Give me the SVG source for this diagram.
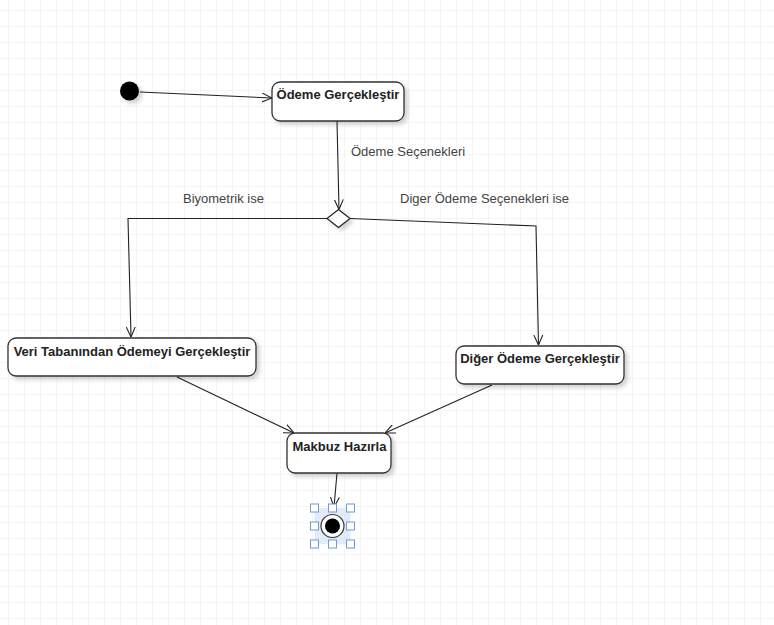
<svg xmlns="http://www.w3.org/2000/svg" width="774" height="625" viewBox="0 0 774 625">
  <defs>
    <pattern id="grid" x="8" y="10" width="16" height="16" patternUnits="userSpaceOnUse">
      <path d="M0,0 H16 M0,0 V16" fill="none" stroke="#ebebeb" stroke-width="1"/>
    </pattern>
    <filter id="shadow" x="-20%" y="-20%" width="150%" height="160%">
      <feDropShadow dx="3" dy="3" stdDeviation="2" flood-color="#000" flood-opacity="0.18"/>
    </filter>
    <marker id="arrow" viewBox="0 0 10 10" refX="10" refY="5" markerWidth="10" markerHeight="10" markerUnits="userSpaceOnUse" orient="auto">
      <path d="M0,0.5 L10,5 L0,9.5" fill="none" stroke="#222" stroke-width="1.1"/>
    </marker>
    <style>
      .node rect { fill: #ffffff; stroke: #333333; stroke-width: 1.3; filter: url(#shadow); }
      .node text { font-family: "Liberation Sans", Arial, sans-serif; font-size: 13px; font-weight: bold; fill: #222222; text-anchor: middle; }
      .edge { fill: none; stroke: #222222; stroke-width: 1.1; }
      .arrow { marker-end: url(#arrow); }
      .label { font-family: "Liberation Sans", Arial, sans-serif; font-size: 13px; fill: #444444; }
      .handle { fill: #ffffff; stroke: #6f9bd1; stroke-width: 1; }
    </style>
  </defs>

  <rect width="774" height="625" fill="#ffffff"/>
  <rect width="774" height="625" fill="url(#grid)"/>

  <!-- connectors -->
  <g id="connectors">
    <line class="edge arrow" x1="140" y1="92" x2="272" y2="98"/>
    <line class="edge arrow" x1="337" y1="121" x2="339" y2="209.5"/>
    <polyline class="edge arrow" points="327,218.5 128,218.5 131,337"/>
    <polyline class="edge arrow" points="350,218.5 536,226 538.5,345"/>
    <line class="edge arrow" x1="177" y1="377" x2="294" y2="433"/>
    <line class="edge arrow" x1="492" y1="385" x2="385" y2="433"/>
    <line class="edge arrow" x1="337" y1="473" x2="334" y2="507"/>
    <text class="label" x="351" y="156">Ödeme Seçenekleri</text>
    <text class="label" x="183" y="203">Biyometrik ise</text>
    <text class="label" x="400" y="203">Diger Ödeme Seçenekleri ise</text>
  </g>

  <!-- initial state -->
  <g id="start">
    <circle cx="129.5" cy="91" r="9.5" fill="#000000" filter="url(#shadow)"/>
  </g>

  <g id="odeme-gerceklestir" class="node">
    <rect x="272" y="82" width="132" height="39" rx="8"/>
    <text x="338" y="99">Ödeme Gerçekleştir</text>
  </g>

  <!-- decision -->
  <g id="secim">
    <polygon points="338.5,209.5 350,218.5 338.5,227.5 327,218.5" fill="#ffffff" stroke="#222222" stroke-width="1.2" filter="url(#shadow)"/>
  </g>

  <g id="veri-tabanindan" class="node">
    <rect x="8" y="338" width="248" height="38" rx="8"/>
    <text x="132" y="355.5">Veri Tabanından Ödemeyi Gerçekleştir</text>
  </g>

  <g id="diger-odeme" class="node">
    <rect x="456" y="346" width="168" height="38" rx="8"/>
    <text x="540" y="363">Diğer Ödeme Gerçekleştir</text>
  </g>

  <g id="makbuz-hazirla" class="node">
    <rect x="287" y="433" width="104" height="40" rx="8"/>
    <text x="339.5" y="451">Makbuz Hazırla</text>
  </g>

  <!-- final state, shown selected -->
  <g id="end">
    <rect x="314.5" y="508" width="36" height="36" fill="#cfe0f3" opacity="0.6"/>
    <circle cx="332.5" cy="526" r="11.5" fill="#ffffff" stroke="#333333" stroke-width="1.2"/>
    <circle cx="332.5" cy="526" r="7.5" fill="#000000"/>
    <rect class="handle" x="310.5" y="504" width="8" height="8"/>
    <rect class="handle" x="328.5" y="504" width="8" height="8"/>
    <rect class="handle" x="346.5" y="504" width="8" height="8"/>
    <rect class="handle" x="310.5" y="522" width="8" height="8"/>
    <rect class="handle" x="346.5" y="522" width="8" height="8"/>
    <rect class="handle" x="310.5" y="540" width="8" height="8"/>
    <rect class="handle" x="328.5" y="540" width="8" height="8"/>
    <rect class="handle" x="346.5" y="540" width="8" height="8"/>
  </g>
</svg>
